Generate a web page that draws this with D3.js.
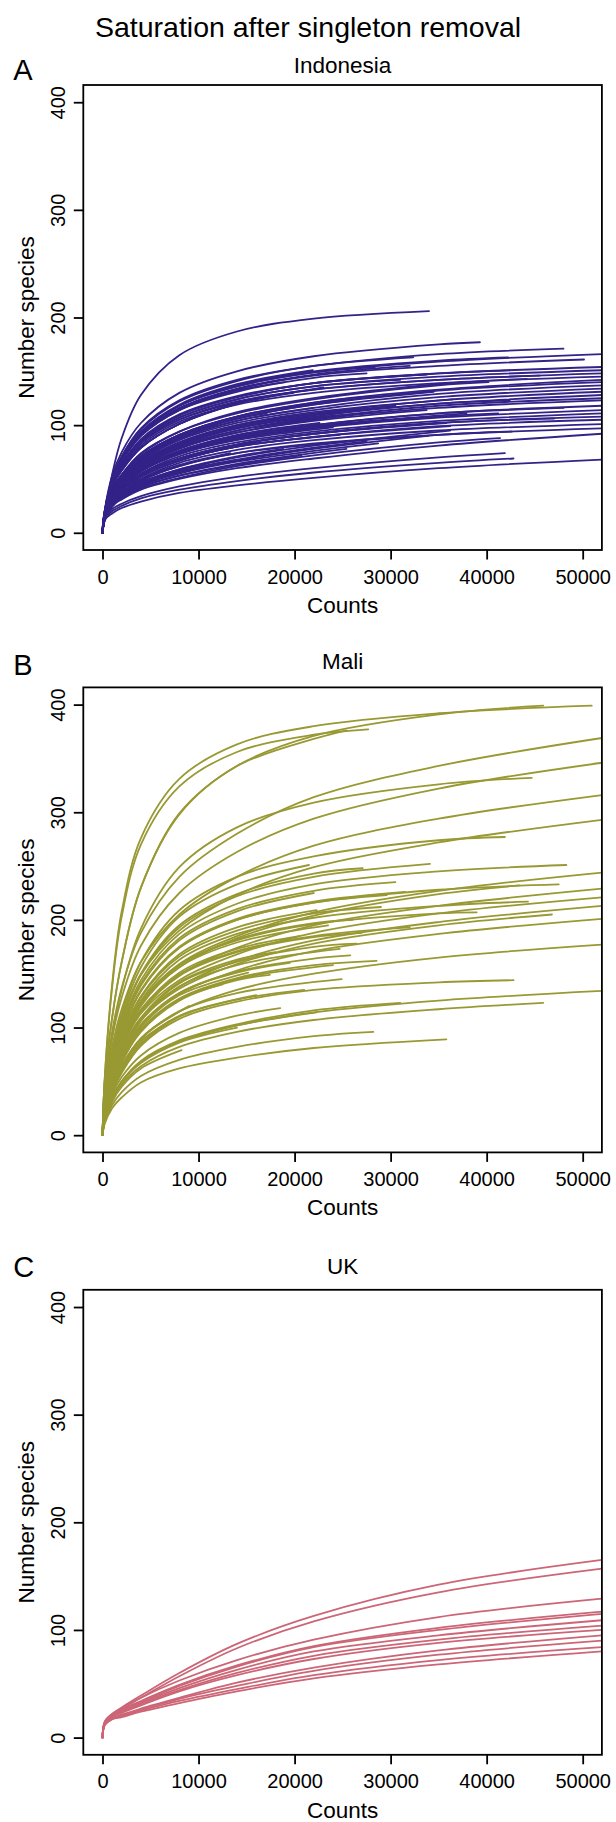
<!DOCTYPE html>
<head>
  <meta charset="utf-8">
  <script src="https://cdnjs.cloudflare.com/ajax/libs/d3/7.8.5/d3.min.js"></script>
  <style>
    body { margin:0; background:#fff; }
    text { font-family: "Liberation Sans", Arial, Helvetica, sans-serif; fill:#000; }
  </style>
</head>

<body>
  <div id="vis"></div>

  <script>
    var width = 616, height = 1822;

    var mainTitle = "Saturation after singleton removal";
    var panelLetters = ["A", "B", "C"];
    var panelNames = ["Indonesia", "Mali", "UK"];
    var panelColors = ["#332288", "#999933", "#cc6677"];
    var xTicks = [0, 10000, 20000, 30000, 40000, 50000];
    var yTicks = [0, 100, 200, 300, 400];

    var sampleCounts = [250, 1000, 2000, 4000, 8000, 14000, 22000, 35000];

    // each row: [last count, species at last count, species at sampleCounts...]
    // rows ending at 52000 run out past the right edge of the plot
    var indonesia = [
      [52000,166, 20,48,68,93,118,136,149,159], [52000,154, 18,45,63,86,109,126,139,148],
      [52000,151, 18,44,62,85,107,124,136,145], [52000,148, 18,43,61,83,105,121,133,142],
      [52000,145, 17,42,59,81,103,119,130,139], [52000,142, 18,38,53,71,91,108,121,133],
      [52000,140, 18,38,52,70,90,106,119,132], [52000,137, 18,37,51,68,88,104,116,129],
      [52000,134, 17,36,50,67,86,102,114,126], [52000,131, 17,35,48,65,84,100,111,123],
      [52000,128, 17,35,47,64,82,97,109,120], [52000,125, 16,34,46,62,80,95,106,118],
      [52000,123, 16,33,45,61,79,93,105,116], [52000,118, 15,32,44,59,76,90,100,111],
      [52000,114, 15,31,42,57,73,87,97,107], [52000,111, 14,30,41,55,71,84,94,104],
      [52000,108, 14,29,40,54,69,82,92,102], [52000,105, 14,28,39,52,67,80,89,99],
      [52000,101, 13,27,37,50,65,77,86,95], [52000,97, 13,26,36,48,62,74,82,91],
      [52000,92, 16,25,31,40,50,60,69,81], [52000,68, 12,18,23,29,37,44,51,60],
      [48000,171, 21,50,71,97,123,142,155,166], [50140,161, 19,47,66,91,115,133,146,155],
      [42250,163, 20,48,68,93,118,137,150,160], [44170,143, 19,40,54,74,94,112,125,138],
      [48000,116, 15,32,44,59,75,89,100,111], [41200,111, 15,31,43,58,74,88,98,108],
      [42600,94, 13,26,36,49,62,74,83,91], [40200,140, 19,39,54,73,94,111,124,137],
      [45500,146, 18,43,61,83,105,122,133,142], [42400,151, 19,45,63,87,110,127,139,148],
      [42400,123, 17,34,47,64,81,97,108,120], [47000,106, 14,29,40,54,69,82,92,102],
      [41400,88, 16,26,32,41,51,62,72,84], [41900,74, 14,22,27,34,43,52,60,70],
      [42800,69, 13,20,25,32,40,48,56,65],
      [34000,206, 16,54,88,128,165,187,199], [39300,177, 22,53,75,102,130,150,164,175],
      [32360,163, 21,50,71,96,122,141,155], [33750,147, 18,45,63,86,109,126,139],
      [33900,90, 18,28,35,45,56,67,78], [36200,99, 14,28,39,52,67,80,89],
      [36500,124, 17,35,49,66,84,100,112], [35800,102, 14,29,40,54,69,82,92],
      [32400,106, 15,31,43,57,74,87,98], [37900,111, 15,32,43,58,75,89,99],
      [34500,131, 18,38,52,70,89,106,119], [31000,142, 18,44,62,84,107,124,136],
      [36200,95, 18,29,36,46,58,70,81], [32000,155, 20,48,67,92,116,134,147],
      [33750,114, 16,33,45,61,78,93,104], [30500,118, 17,35,48,65,83,99,110],
      [28370,154, 20,48,68,93,118,136,149], [28700,83, 17,27,34,44,55,66,76],
      [25400,78, 17,27,34,43,53,64], [20700,72, 17,26,33,42,53,63],
      [21900,116, 18,37,51,68,87,104], [22600,102, 16,32,44,60,76,91],
      [25400,124, 18,38,52,71,91,108], [24700,91, 14,28,39,52,67,80],
      [28200,127, 18,38,53,71,91,108,121], [21900,151, 20,49,69,94,119,138],
      [27500,148, 19,46,66,90,114,131,144], [27500,85, 18,28,36,45,57,68,79],
      [23000,135, 20,43,58,79,101,120], [26000,110, 16,34,46,63,80,95,107],
      [24000,98, 15,31,42,57,73,86],
      [18500,105, 17,35,48,65,83,98], [19900,130, 20,42,58,79,101,120],
      [17100,111, 18,38,52,70,89,106], [15000,92, 16,32,44,60,76],
      [16400,85, 14,29,40,54,69], [13300,74, 20,31,40,50,63],
      [18800,78, 19,30,37,47,59,71], [10800,64, 12,25,34,46,59],
      [14000,120, 21,43,58,79,101], [19000,140, 19,47,66,90,114,132],
      [12000,100, 18,38,51,69,89],
      [8000,57, 12,24,33,45], [6300,80, 18,37,51,69]
    ];

    var mali = [
      [50940,399, 56,140,208,276,331,363,380,392], [45900,399, 52,109,161,230,299,343,371,391],
      [27670,377, 55,137,203,270,324,356,372], [25400,376, 52,109,161,230,298,343],
      [52000,369, 44,96,137,188,240,280,314,343], [52000,346, 42,90,128,176,225,263,294,322],
      [52000,316, 38,82,117,161,205,240,269,294], [52000,293, 35,76,108,149,190,223,249,272],
      [52000,244, 29,63,90,124,159,185,207,227], [52000,229, 27,60,85,117,149,174,195,213],
      [52000,221, 27,57,82,113,144,168,188,206], [52000,213, 26,55,79,109,138,162,181,198],
      [52000,201, 24,52,74,103,131,153,171,187], [52000,177, 21,46,65,90,115,135,150,165],
      [52000,134, 16,35,50,68,87,102,114,125],
      [44700,332, 44,91,135,192,249,286,309,326], [41900,277, 37,76,113,161,209,240,259,274],
      [48300,251, 33,68,101,144,187,215,233,245], [47500,233, 31,63,94,134,174,200,216,228],
      [43400,232, 29,62,89,123,156,183,204,224], [44300,217, 29,59,88,125,163,187,202,213],
      [46800,205, 25,54,77,107,136,159,178,195], [42800,144, 19,40,58,83,108,124,135,142],
      [45900,123, 15,33,47,64,82,96,107,117],
      [34100,252, 34,70,104,149,193,222,240], [31500,226, 31,64,95,135,175,201,217],
      [38960,207, 28,58,85,121,158,181,196,206], [32000,193, 26,54,81,115,149,171,185],
      [31000,123, 16,35,50,69,88,103,116], [35800,89, 11,25,35,49,62,72,81],
      [30500,235, 32,67,99,141,183,210,227],
      [27100,248, 34,71,106,150,195,224,243], [21500,251, 36,74,110,156,203,233],
      [29600,223, 31,63,94,134,174,200,216], [22300,209, 29,61,91,129,168,193],
      [26460,178, 25,51,76,108,141,161,175], [24700,173, 24,50,74,106,138,158],
      [25800,167, 23,48,71,102,132,152,164], [28540,162, 22,46,69,98,127,146,158],
      [24900,145, 20,42,62,89,115,132], [22300,114, 16,35,50,68,87,102],
      [28200,96, 13,28,40,55,70,82,92], [23500,195, 27,57,84,120,156,179],
      [26000,200, 28,58,86,122,158,182,197], [24000,158, 22,46,68,97,126,145],
      [29000,212, 29,60,90,128,166,190,206], [22000,225, 32,66,98,139,181,208],
      [27000,188, 26,54,80,114,148,170,184], [21000,135, 19,40,59,84,110,126],
      [17430,149, 22,46,68,96,125,144], [15170,151, 23,47,70,100,130],
      [20500,185, 27,55,82,116,151,173], [18000,170, 25,52,77,109,142,163],
      [16000,130, 19,40,60,85,111], [19500,160, 23,48,71,102,132,151],
      [12500,140, 22,46,68,97,126], [14000,100, 16,34,49,67,86],
      [18500,118, 17,38,54,74,95,111],
      [8230,79, 14,31,45,62], [7000,106, 20,41,61,87], [9000,120, 21,43,63,90]
    ];

    var uk = [
      [52000,165, 15,22,28,39,60,87,113,142], [52000,157, 14,21,27,37,57,83,108,135],
      [52000,129, 15,22,27,37,53,72,91,112], [52000,117, 14,21,26,34,49,67,85,102],
      [52000,115, 14,21,26,33,48,66,84,100], [52000,109, 14,20,25,32,46,63,80,95],
      [52000,104, 14,20,24,31,44,60,76,91], [52000,100, 13,19,23,30,43,58,73,88],
      [52000,95, 13,18,21,27,37,51,65,81], [52000,90, 13,18,21,26,36,48,62,77],
      [52000,84, 12,17,20,25,34,45,58,72], [52000,80, 12,17,19,24,32,43,55,68]
    ];

    var panelCurves = [indonesia, mali, uk];

    // plot box (panel A), other panels are shifted down
    var box = {left: 83.3, right: 601.9, top: 85, bottom: 550};
    var panelShift = 602.4;
    var letterY = [79.5, 675, 1277];
    var nameY = [73, 669, 1274];

    var svg = d3.select("#vis").append("svg")
      .attr("width", width)
      .attr("height", height);

    var x = d3.scaleLinear().domain([-2000, 52000]).range([box.left, box.right]);
    var y = d3.scaleLinear().domain([-16, 416]).range([box.bottom, box.top]);

    var line = d3.line()
      .x(function(d) { return x(d[0]); })
      .y(function(d) { return y(d[1]); })
      .curve(d3.curveCatmullRom.alpha(0.5));

    function toPoints(row) {
      var pts = [[0, 0]];
      for (var i = 2; i < row.length; i++) pts.push([sampleCounts[i - 2], row[i]]);
      pts.push([row[0], row[1]]);
      return pts;
    }

    svg.append("text")
      .attr("x", width / 2)
      .attr("y", 37)
      .attr("text-anchor", "middle")
      .style("font-size", "28.5px")
      .text(mainTitle);

    panelNames.forEach(function(name, p) {
      var g = svg.append("g").attr("transform", "translate(0," + (p * panelShift) + ")");

      g.append("clipPath").attr("id", "clip" + p)
        .append("rect")
        .attr("x", box.left).attr("y", box.top)
        .attr("width", box.right - box.left).attr("height", box.bottom - box.top);

      g.append("g")
        .attr("clip-path", "url(#clip" + p + ")")
        .selectAll("path")
        .data(panelCurves[p])
        .enter().append("path")
        .attr("d", function(d) { return line(toPoints(d)); })
        .attr("fill", "none")
        .attr("stroke", panelColors[p])
        .attr("stroke-width", 1.8)
        .attr("stroke-linecap", "round")
        .attr("stroke-linejoin", "round");

      var xAxis = g.append("g")
        .attr("transform", "translate(0," + box.bottom + ")")
        .call(d3.axisBottom(x).tickValues(xTicks).tickSize(9.5).tickPadding(10).tickFormat(d3.format("d")));
      xAxis.select(".domain").remove();

      var yAxis = g.append("g")
        .attr("transform", "translate(" + box.left + ",0)")
        .call(d3.axisLeft(y).tickValues(yTicks).tickSize(9.5));
      yAxis.select(".domain").remove();
      yAxis.selectAll("text")
        .attr("x", 0).attr("y", -18.3).attr("dy", 0)
        .attr("text-anchor", "middle")
        .attr("transform", "rotate(-90)");

      g.selectAll(".tick line").attr("stroke", "#000").attr("stroke-width", 1.8);
      g.selectAll(".tick text").style("font-size", "20px").style("font-family", null);

      g.append("rect")
        .attr("x", box.left).attr("y", box.top)
        .attr("width", box.right - box.left).attr("height", box.bottom - box.top)
        .attr("fill", "none").attr("stroke", "#000").attr("stroke-width", 1.8);

      g.append("text")
        .attr("x", (box.left + box.right) / 2)
        .attr("y", box.bottom + 63)
        .attr("text-anchor", "middle")
        .style("font-size", "22.5px")
        .text("Counts");

      g.append("text")
        .attr("transform", "translate(" + (box.left - 49.7) + "," + ((box.top + box.bottom) / 2) + ") rotate(-90)")
        .attr("text-anchor", "middle")
        .style("font-size", "22.5px")
        .text("Number species");

      svg.append("text")
        .attr("x", (box.left + box.right) / 2)
        .attr("y", nameY[p])
        .attr("text-anchor", "middle")
        .style("font-size", "22.5px")
        .text(name);

      svg.append("text")
        .attr("x", 13.3)
        .attr("y", letterY[p])
        .style("font-size", "29px")
        .text(panelLetters[p]);
    });
  </script>
</body>
